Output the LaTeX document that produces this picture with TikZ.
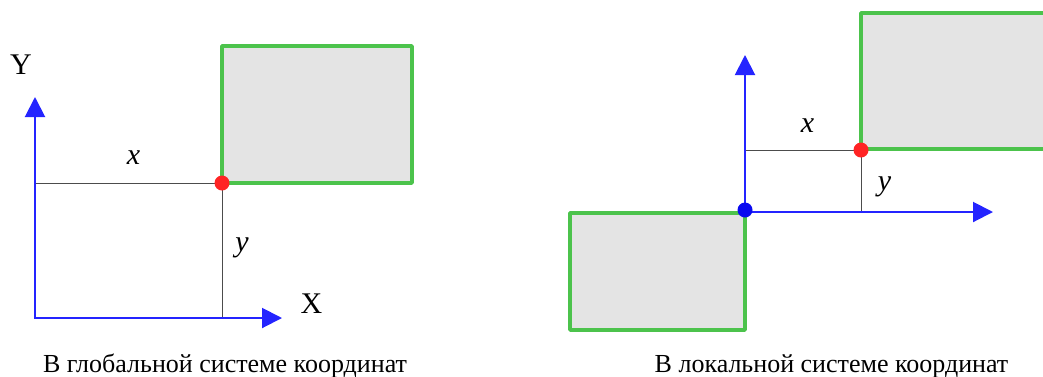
\documentclass[tikz,border=0pt]{standalone}
\usepackage{fontspec}
\setmainfont{Liberation Serif}
\usetikzlibrary{arrows.meta}

\definecolor{axisblue}{RGB}{36,36,255}
\definecolor{boxgreen}{RGB}{76,195,76}
\definecolor{boxgray}{RGB}{228,228,228}
\definecolor{dotred}{RGB}{255,36,36}
\definecolor{dotblue}{RGB}{10,10,240}

\tikzset{
  axis/.style={draw=axisblue, line width=2pt,
    {Triangle[length=20pt,width=20pt]}-{Triangle[length=20pt,width=20pt]}},
  boxfill/.style={fill=boxgray},
  boxline/.style={draw=boxgreen, line width=3.5pt, line join=round},
  guide/.style={draw=black!70, line width=1pt},
  reddot/.style={circle, fill=dotred, inner sep=0pt, minimum size=15pt},
  bluedot/.style={circle, fill=dotblue, inner sep=0pt, minimum size=15pt},
  axlabel/.style={anchor=base, font=\fontsize{30}{36}\selectfont},
  caption/.style={anchor=base, font=\fontsize{26}{30}\selectfont}
}

\begin{document}
\begin{tikzpicture}[x=1pt,y=-1pt]
    \useasboundingbox (0,0) rectangle (1043,376);

    % global frame
    \fill[boxfill] (222,46) rectangle (412,183);
    \draw[boxline] (222,46) rectangle (412,183);

    \coordinate (gorig) at (35,318);
    \coordinate (gytip) at (35,97);
    \coordinate (gxtip) at (282,318);
    \coordinate (gleft) at (35,183);
    \coordinate (gpt) at (222,183);
    \coordinate (gfoot) at (222,318);

    \draw[guide] (gleft) -- (gpt) -- (gfoot);
    \draw[axis] (gytip) -- (gorig) -- (gxtip);
    \node[reddot] (gdot) at (gpt) {};

    \node[axlabel] (glabY) at (21,74) {Y};
    \node[axlabel] (glabX) at (311.5,313) {X};
    \node[axlabel] (glabx) at (133.5,164) {\textit{x}};
    \node[axlabel] (glaby) at (242,251) {\textit{y}};

    \node[caption] (gcap) at (225,372) {В глобальной системе координат};

    % local frame
    \fill[boxfill] (570,213) rectangle (745,330);
    \draw[boxline] (570,213) rectangle (745,330);
    \fill[boxfill] (861,13) rectangle (1043,149);
    \draw[boxline] (1045,13) -- (861,13) -- (861,149) -- (1045,149);

    \coordinate (lorig) at (745,212);
    \coordinate (lytip) at (745,55);
    \coordinate (lxtip) at (993,212);
    \coordinate (lleft) at (745,150);
    \coordinate (lpt) at (861,150);
    \coordinate (lfoot) at (861,212);

    \draw[guide] (lleft) -- (lpt) -- (lfoot);
    \draw[axis] (lytip) -- (lorig) -- (lxtip);
    \node[reddot] (ldot) at (lpt) {};
    \node[bluedot] (ldotorig) at (745,210) {};

    \node[axlabel] (llabx) at (807.5,132) {\textit{x}};
    \node[axlabel] (llaby) at (884.5,190) {\textit{y}};

    \node[caption] (lcap) at (831.5,372) {В локальной системе координат};
\end{tikzpicture}
\end{document}
